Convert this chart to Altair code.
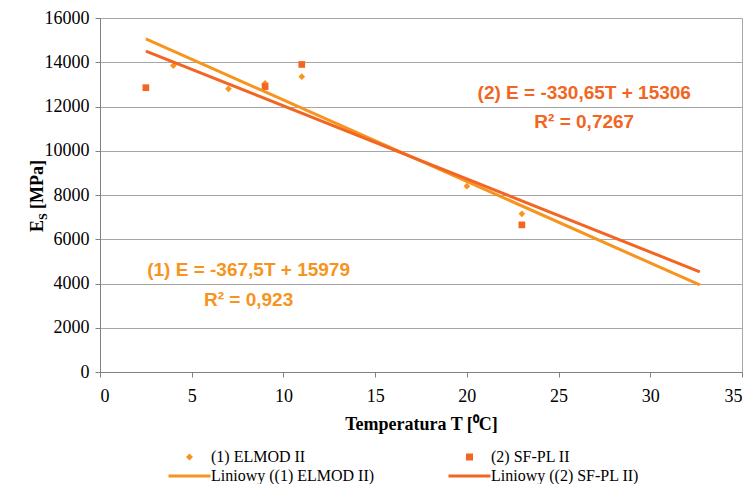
import altair as alt
import pandas as pd

# ---- data ----
SERIES = ["(1) ELMOD II", "(2) SF-PL II"]
TREND = ["Liniowy ((1) ELMOD II)", "Liniowy ((2) SF-PL II)"]
T_ELMOD = [4, 7, 9, 11, 20, 23]
E_ELMOD = [13850, 12800, 13050, 13350, 8400, 7150]
T_SFPL = [2.5, 9, 11, 23]
E_SFPL = [12850, 12900, 13900, 6650]
EQ1 = ["(1) E = -367,5T + 15979", "R² = 0,923"]
EQ2 = ["(2) E = -330,65T + 15306", "R² = 0,7267"]
X_TICKS = [0, 5, 10, 15, 20, 25, 30, 35]
Y_TICKS = [0, 2000, 4000, 6000, 8000, 10000, 12000, 14000, 16000]
TREND_EXTENT = [2.5, 32.7]

# ---- styling ----
C1 = "#F7941D"
C2 = "#F26522"
SERIF = "Liberation Serif"
SANS = "Liberation Sans"
LINE_SYM = "M-6,-0.43L6,-0.43L6,0.43L-6,0.43Z"

# annotation anchor positions (data coordinates)
EQ1_POS = [(8.1, 4600), (8.1, 3250)]
EQ2_POS = [(26.4, 12600), (26.4, 11300)]

df = pd.DataFrame({
    "series": [SERIES[0]] * len(T_ELMOD) + [SERIES[1]] * len(T_SFPL),
    "T": T_ELMOD + T_SFPL,
    "E": E_ELMOD + E_SFPL,
})

domain = SERIES + TREND

legend = alt.Legend(
    title=None, orient="none", legendX=81.5, legendY=431, columns=2, direction="horizontal",
    columnPadding=74, rowPadding=3, padding=0,
    labelFont=SERIF, labelFontSize=16, labelColor="#000000", labelOffset=13.5, labelLimit=400,
    symbolSize=49, symbolStrokeWidth=0, symbolOpacity=1,
)

color = alt.Color("series:N", scale=alt.Scale(domain=domain, range=[C1, C2, C1, C2]), legend=legend)
shape = alt.Shape("series:N", scale=alt.Scale(domain=domain, range=["diamond", "square", LINE_SYM, LINE_SYM]), legend=legend)

x = alt.X("T:Q", scale=alt.Scale(domain=[0, 35], nice=False),
          axis=alt.Axis(values=X_TICKS, title="Temperatura T [⁰C]", grid=False,
                        labelPadding=10, titlePadding=10))
y = alt.Y("E:Q", scale=alt.Scale(domain=[0, 16000], nice=False),
          axis=alt.Axis(values=Y_TICKS, format="d", title=None, grid=True, labelPadding=6))

base = alt.Chart(df)

points = base.mark_point(filled=True, size=45, opacity=1).encode(x=x, y=y, color=color, shape=shape)

trend = base.transform_regression(
    "T", "E", groupby=["series"], extent=TREND_EXTENT
).transform_calculate(
    series="'Liniowy (' + datum.series + ')'"
).mark_line(strokeWidth=3).encode(x=x, y=y, color=color)


def ann(lines, pos, col):
    d = pd.DataFrame({"T": [p[0] for p in pos], "E": [p[1] for p in pos], "txt": lines})
    return alt.Chart(d).mark_text(font=SANS, fontSize=19, fontWeight="bold", color=col,
                                  align="center", baseline="middle").encode(
        x=alt.X("T:Q"), y=alt.Y("E:Q"), text="txt:N")


one = pd.DataFrame({"k": [0]})
ytitle_E = alt.Chart(one).mark_text(text="E", font=SERIF, fontSize=18, fontWeight="bold",
                                    angle=270, align="left", baseline="middle", color="#000").encode(
    x=alt.value(-62), y=alt.value(214))
ytitle_S = alt.Chart(one).mark_text(text="S", font=SERIF, fontSize=12, fontWeight="bold",
                                    angle=270, align="left", baseline="middle", color="#000").encode(
    x=alt.value(-57), y=alt.value(202))
ytitle_rest = alt.Chart(one).mark_text(text="[MPa]", font=SERIF, fontSize=18, fontWeight="bold",
                                       angle=270, align="left", baseline="middle", color="#000").encode(
    x=alt.value(-62), y=alt.value(191))

chart = alt.layer(
    points, trend, ann(EQ1, EQ1_POS, C1), ann(EQ2, EQ2_POS, C2),
    ytitle_E, ytitle_S, ytitle_rest,
).properties(
    width=642, height=354,
    autosize=alt.AutoSizeParams(type="none"),
    padding={"left": 100, "top": 18, "right": 14, "bottom": 112},
    background="#FFFFFF",
).configure_axis(
    labelFont=SERIF, labelFontSize=18, labelColor="#000000",
    titleFont=SERIF, titleFontSize=18, titleFontWeight="bold", titleColor="#000000",
    domainColor="#808080", tickColor="#808080", tickSize=5,
    gridColor="#A6A6A6", gridWidth=1,
).configure_view(stroke="#A6A6A6")

chart.save("out.html", embed_options={"renderer": "svg", "actions": False})
